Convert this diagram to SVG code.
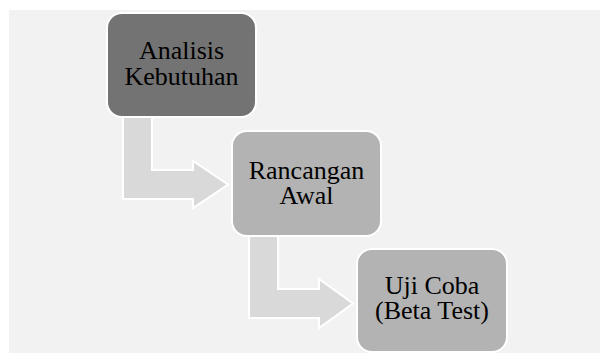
<svg xmlns="http://www.w3.org/2000/svg" width="600" height="353" viewBox="0 0 600 353">
<style>
.node{stroke:#ffffff;stroke-width:2}
.dark{fill:#737373}
.light{fill:#b3b3b3}
.arrow{fill:#d9d9d9;stroke:#ffffff;stroke-width:2;stroke-linejoin:miter}
text{font-family:"Liberation Serif","Times New Roman",serif;font-size:26px;fill:#000000;text-anchor:middle}
</style>
<rect x="9" y="10" width="591" height="343" fill="#f2f2f2"/>
<g id="connectors">
<path class="arrow" d="M123,117 L152,117 L152,170 L193,170 L193,161 L228,184.5 L193,208 L193,199 L123,199 Z"/>
<path class="arrow" d="M249,236 L278,236 L278,289 L319,289 L319,279 L353,303.5 L319,328 L319,318 L249,318 Z"/>
</g>
<g id="node1">
<rect class="node dark" x="107" y="13" width="149" height="104" rx="15"/>
<text x="181.5" y="59">Analisis</text>
<text x="181.5" y="85">Kebutuhan</text>
</g>
<g id="node2">
<rect class="node light" x="232" y="131" width="149" height="105" rx="15"/>
<text x="306.5" y="179">Rancangan</text>
<text x="306.5" y="204">Awal</text>
</g>
<g id="node3">
<rect class="node light" x="357" y="249" width="150" height="103" rx="15"/>
<text x="432" y="294">Uji Coba</text>
<text x="432" y="319">(Beta Test)</text>
</g>
</svg>
